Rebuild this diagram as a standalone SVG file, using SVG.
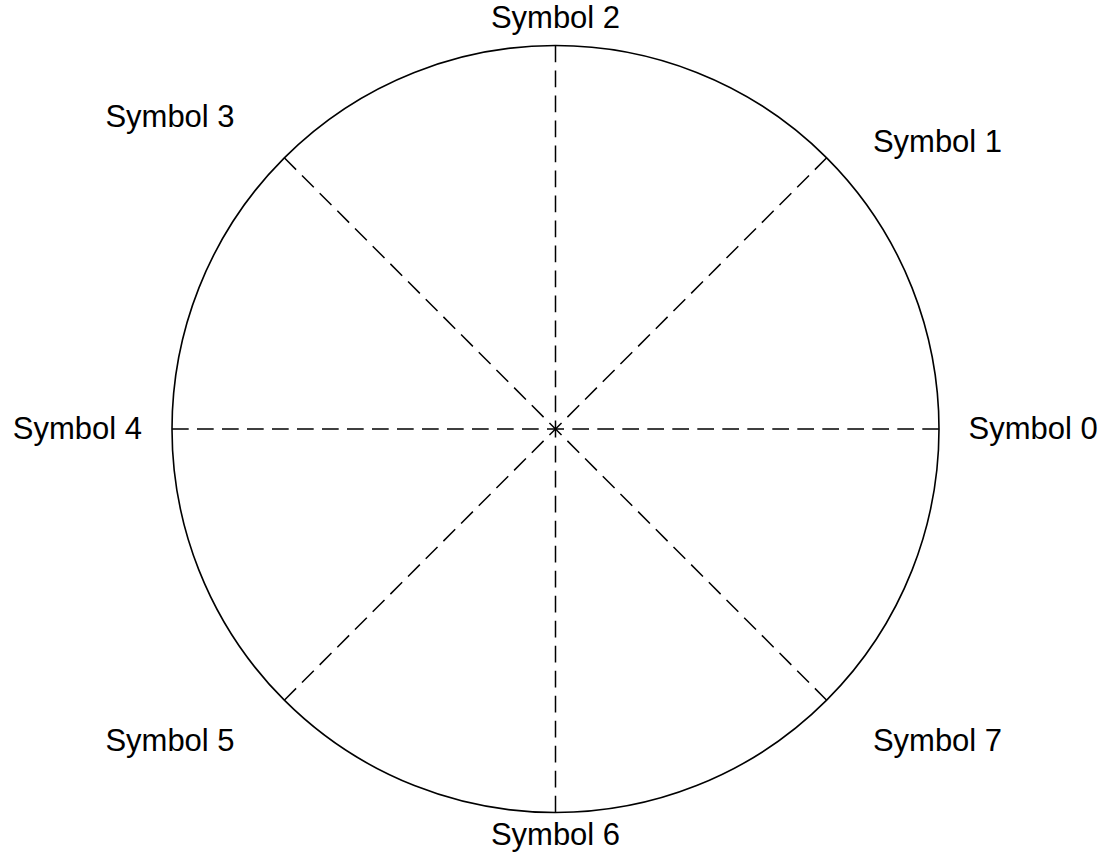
<svg xmlns="http://www.w3.org/2000/svg" width="1107" height="856" viewBox="0 0 1107 856">
<style>
.lbl{font-family:"Liberation Sans",Arial,sans-serif;font-size:31px;fill:#000}
.ray{stroke:#000;stroke-width:1.5;stroke-dasharray:16.7 8.3;fill:none}
</style>
<rect width="1107" height="856" fill="#fff"/>
<g id="circle"><circle cx="555.5" cy="429" r="383.5" fill="none" stroke="#000" stroke-width="1.6"/></g>
<g id="connectors">
<line class="ray" x1="939" y1="429" x2="555.5" y2="429"/>
<line class="ray" x1="826.7" y1="157.8" x2="555.5" y2="429"/>
<line class="ray" x1="555.5" y1="45.5" x2="555.5" y2="429"/>
<line class="ray" x1="284.3" y1="157.8" x2="555.5" y2="429"/>
<line class="ray" x1="172" y1="429" x2="555.5" y2="429"/>
<line class="ray" x1="284.3" y1="700.2" x2="555.5" y2="429"/>
<line class="ray" x1="555.5" y1="812.5" x2="555.5" y2="429"/>
<line class="ray" x1="826.7" y1="700.2" x2="555.5" y2="429"/>
</g>
<g id="symbol0"><text class="lbl" x="968.5" y="439">Symbol 0</text></g>
<g id="symbol1"><text class="lbl" x="937.5" y="151.5" text-anchor="middle">Symbol 1</text></g>
<g id="symbol2"><text class="lbl" x="555.5" y="28.3" text-anchor="middle">Symbol 2</text></g>
<g id="symbol3"><text class="lbl" x="170" y="126.7" text-anchor="middle">Symbol 3</text></g>
<g id="symbol4"><text class="lbl" x="142" y="439" text-anchor="end">Symbol 4</text></g>
<g id="symbol5"><text class="lbl" x="170" y="750.5" text-anchor="middle">Symbol 5</text></g>
<g id="symbol6"><text class="lbl" x="555.5" y="845" text-anchor="middle">Symbol 6</text></g>
<g id="symbol7"><text class="lbl" x="937.5" y="750.5" text-anchor="middle">Symbol 7</text></g>
</svg>
